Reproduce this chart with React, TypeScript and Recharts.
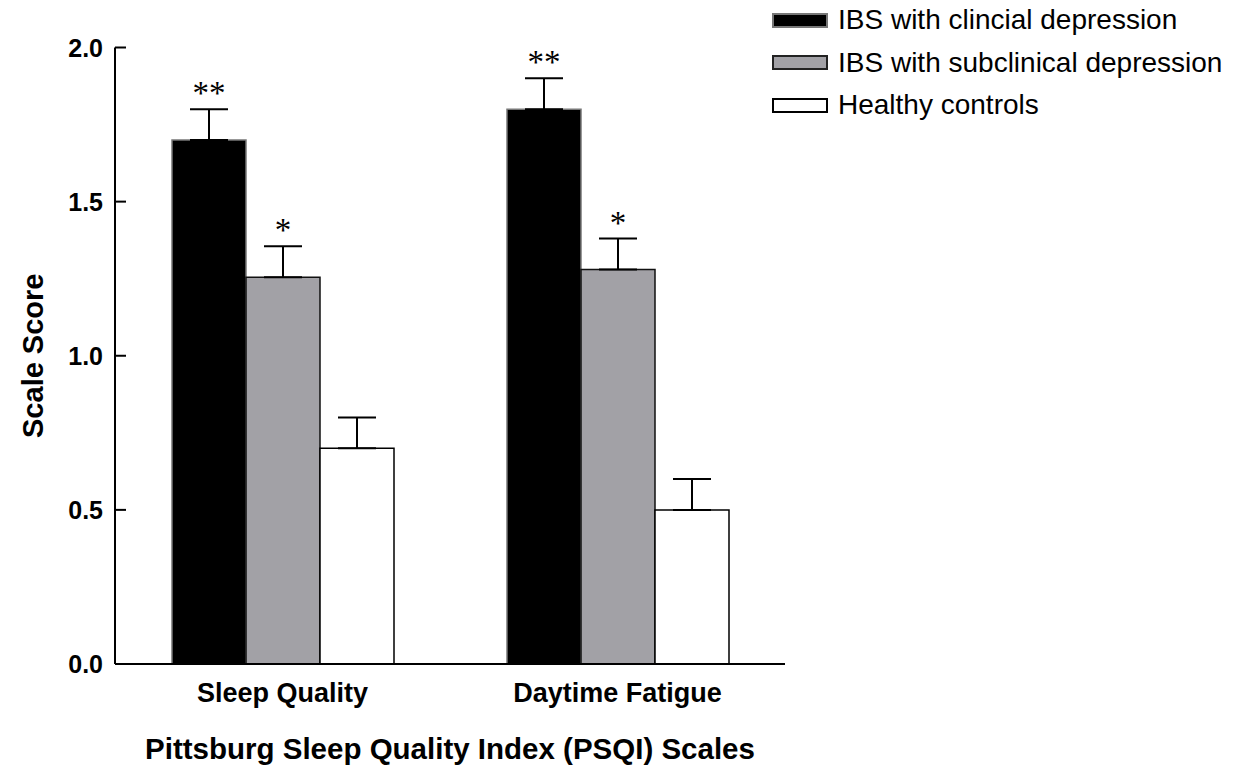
import React from 'react';
import { BarChart, Bar, XAxis, YAxis, ErrorBar, LabelList, Legend } from 'recharts';

const categories = ['Sleep Quality', 'Daytime Fatigue'];
const clinical = [1.7, 1.8];
const clinicalErr = [0.1, 0.1];
const subclinical = [1.255, 1.28];
const subclinicalErr = [0.1, 0.1];
const healthy = [0.7, 0.5];
const healthyErr = [0.1, 0.1];
const clinicalMarks = ['**', '**'];
const subclinicalMarks = ['*', '*'];
const healthyMarks = ['', ''];
const yTicks = [0, 0.5, 1.0, 1.5, 2.0];

const seriesNames = ['IBS with clincial depression', 'IBS with subclinical depression', 'Healthy controls'];

const data = categories.map((name, i) => ({
  name,
  clinical: clinical[i],
  clinicalErr: [0, clinicalErr[i]],
  clinicalMark: clinicalMarks[i],
  subclinical: subclinical[i],
  subclinicalErr: [0, subclinicalErr[i]],
  subclinicalMark: subclinicalMarks[i],
  healthy: healthy[i],
  healthyErr: [0, healthyErr[i]],
  healthyMark: healthyMarks[i],
}));

const SANS = '"Liberation Sans", Arial, Helvetica, sans-serif';
const SERIF = '"Liberation Serif", "Times New Roman", serif';

const YTick = (props: any) => {
  const { x, y, payload } = props;
  return (
    <g>
      <line x1={x + 12} y1={y} x2={x + 23} y2={y} stroke="#000" strokeWidth={2} />
      <text x={x} y={y} dy="0.36em" textAnchor="end" fontSize={25} fontWeight="bold" fill="#000" fontFamily={SANS}>
        {Number(payload.value).toFixed(1)}
      </text>
    </g>
  );
};

const makeMark = (vals: number[], errs: number[]) => (props: any) => {
  const { x, y, width, height, value, index } = props;
  if (!value) return null;
  const pxPerUnit = height / vals[index];
  const errTop = y - errs[index] * pxPerUnit;
  return (
    <text x={x + width / 2} y={errTop - 5} textAnchor="middle" fontSize={33} fontFamily={SERIF} fill="#000">
      {value}
    </text>
  );
};

const swatches = [
  { fill: '#000000', border: '#777777' },
  { fill: '#a2a1a6', border: '#222222' },
  { fill: '#ffffff', border: '#000000' },
];

const renderLegend = () => (
  <div style={{ fontFamily: SANS }}>
    {seriesNames.map((n, i) => (
      <div key={n} style={{ display: 'flex', alignItems: 'center', height: 24, marginBottom: i < 2 ? 18.5 : 0 }}>
        <div
          style={{
            boxSizing: 'border-box',
            width: 56,
            height: 15,
            background: swatches[i].fill,
            border: `2px solid ${swatches[i].border}`,
            marginRight: 10,
            flex: 'none',
          }}
        />
        <span style={{ fontSize: 28, color: '#000', whiteSpace: 'nowrap', lineHeight: '24px' }}>{n}</span>
      </div>
    ))}
  </div>
);

export default function App() {
  return (
    <div style={{ width: 1218, height: 760, position: 'relative', background: '#fff' }}>
      <BarChart
        width={1218}
        height={760}
        data={data}
        margin={{ top: 39.5, right: 441, bottom: 0, left: 0 }}
        barGap={0}
        barSize={74}
      >
        <XAxis
          dataKey="name"
          height={104}
          axisLine={{ stroke: '#000', strokeWidth: 2 }}
          tickLine={false}
          tickSize={0}
          tickMargin={19}
          tick={{ fontSize: 27, fontWeight: 'bold', fill: '#000', fontFamily: SANS }}
          label={{
            value: 'Pittsburg Sleep Quality Index (PSQI) Scales',
            position: 'insideBottom',
            offset: 9,
            fontSize: 29.5,
            fontWeight: 'bold',
            fill: '#000',
            fontFamily: SANS,
          }}
        />
        <YAxis
          width={107}
          domain={[0, 2]}
          ticks={yTicks}
          interval={0}
          axisLine={{ stroke: '#000', strokeWidth: 2 }}
          tickLine={false}
          tickSize={0}
          tickMargin={12}
          tick={<YTick />}
          label={{
            content: (p: any) => {
              const vb = p.viewBox || {};
              const cx = 25;
              const cy = (vb.y ?? 0) + (vb.height ?? 0) / 2;
              return (
                <text
                  x={cx}
                  y={cy}
                  transform={`rotate(-90, ${cx}, ${cy})`}
                  textAnchor="middle"
                  dominantBaseline="central"
                  fontSize={29}
                  fontWeight="bold"
                  fill="#000"
                  fontFamily={SANS}
                >
                  Scale Score
                </text>
              );
            },
          }}
        />
        <Legend
          layout="vertical"
          align="center"
          verticalAlign="middle"
          content={renderLegend}
          wrapperStyle={{ left: 764, top: 0, width: 460, height: 130 }}
        />
        <Bar dataKey="clinical" name={seriesNames[0]} fill="#000000" stroke="#777777" strokeWidth={1.5} isAnimationActive={false}>
          <ErrorBar dataKey="clinicalErr" width={19} strokeWidth={2} stroke="#000" />
          <LabelList dataKey="clinicalMark" content={makeMark(clinical, clinicalErr)} />
        </Bar>
        <Bar dataKey="subclinical" name={seriesNames[1]} fill="#a2a1a6" stroke="#111111" strokeWidth={1.5} isAnimationActive={false}>
          <ErrorBar dataKey="subclinicalErr" width={19} strokeWidth={2} stroke="#000" />
          <LabelList dataKey="subclinicalMark" content={makeMark(subclinical, subclinicalErr)} />
        </Bar>
        <Bar dataKey="healthy" name={seriesNames[2]} fill="#ffffff" stroke="#000000" strokeWidth={1.5} isAnimationActive={false}>
          <ErrorBar dataKey="healthyErr" width={19} strokeWidth={2} stroke="#000" />
          <LabelList dataKey="healthyMark" content={makeMark(healthy, healthyErr)} />
        </Bar>
      </BarChart>
    </div>
  );
}
